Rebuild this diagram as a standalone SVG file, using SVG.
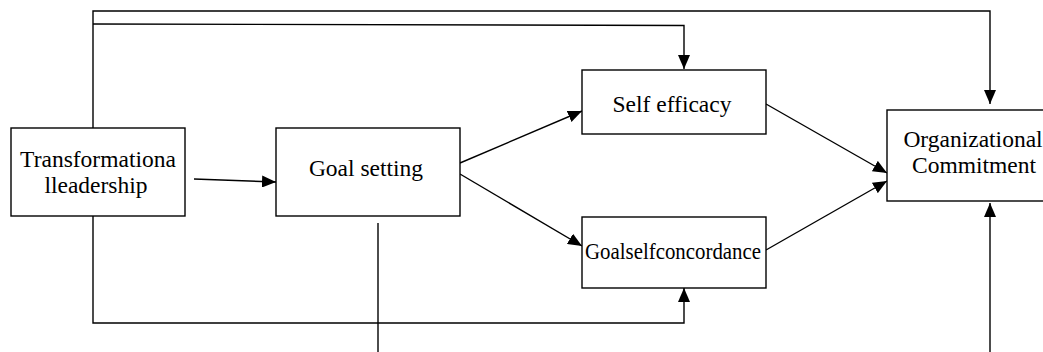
<svg xmlns="http://www.w3.org/2000/svg" width="1043" height="352" viewBox="0 0 1043 352">
<style>
.box{fill:#fff;stroke:#000;stroke-width:1.4}
.lbl{font-family:'Liberation Serif','Times New Roman',serif;font-size:23.5px;fill:#000;text-anchor:middle}
.ln{fill:none;stroke:#000;stroke-width:1.4}
</style>
<defs>
<marker id="ah" viewBox="0 0 14 12" refX="14" refY="6" markerWidth="14" markerHeight="12" markerUnits="userSpaceOnUse" orient="auto">
<path d="M0,0 L14,6 L0,12 Z" fill="#000"/>
</marker>
</defs>
<g id="connectors">
<polyline class="ln" points="93,128 93,11 990,11 990,104" marker-end="url(#ah)"/>
<polyline class="ln" points="93,24 684,25.5 684,69" marker-end="url(#ah)"/>
<polyline class="ln" points="93,216 93,323 684,323 684,288" marker-end="url(#ah)"/>
<line class="ln" x1="378" y1="223" x2="378" y2="352"/>
<line class="ln" x1="990" y1="352" x2="990" y2="203" marker-end="url(#ah)"/>
<line class="ln" x1="194" y1="179" x2="276" y2="182" marker-end="url(#ah)"/>
<line class="ln" x1="460" y1="163" x2="582" y2="111" marker-end="url(#ah)"/>
<line class="ln" x1="460" y1="174" x2="582" y2="246" marker-end="url(#ah)"/>
<line class="ln" x1="766" y1="104" x2="887" y2="173" marker-end="url(#ah)"/>
<line class="ln" x1="766" y1="250" x2="887" y2="181" marker-end="url(#ah)"/>
</g>
<g id="transformational">
<rect class="box" x="11" y="128" width="174" height="88"/>
<text class="lbl" x="98" y="167">Transformationa</text>
<text class="lbl" x="96" y="193">lleadership</text>
</g>
<g id="goal-setting">
<rect class="box" x="276" y="128" width="184" height="88"/>
<text class="lbl" x="366" y="176">Goal setting</text>
</g>
<g id="self-efficacy">
<rect class="box" x="582" y="70" width="184" height="64"/>
<text class="lbl" x="672" y="112">Self efficacy</text>
</g>
<g id="goal-self-concordance">
<rect class="box" x="582" y="217" width="184" height="71"/>
<text class="lbl" x="673" y="259" textLength="176" lengthAdjust="spacingAndGlyphs">Goalselfconcordance</text>
</g>
<g id="organizational-commitment">
<rect class="box" x="887" y="110" width="170" height="91"/>
<text class="lbl" x="973" y="147">Organizational</text>
<text class="lbl" x="974" y="173">Commitment</text>
</g>
</svg>
